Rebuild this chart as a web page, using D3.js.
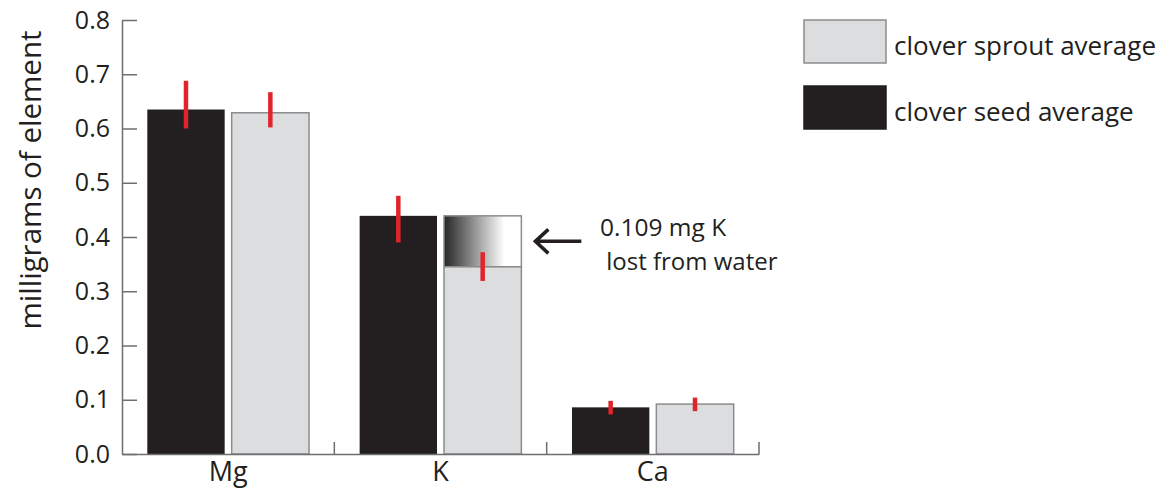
<!DOCTYPE html>
<html>
<head>
<meta charset="utf-8">
<script src="https://cdn.jsdelivr.net/npm/d3@7"></script>
<style>
  body { margin: 0; background: #fff; }
  svg { display: block; font-family: "Open Sans", sans-serif; }
  text { fill: #231f20; }
</style>
</head>
<body>
<svg></svg>
<script>
// data
var elements = ['Mg', 'K', 'Ca'];
var seedAvg = [0.635, 0.439, 0.086];
var seedErrLow = [0.600, 0.390, 0.073];
var seedErrHigh = [0.688, 0.476, 0.098];
var sproutAvg = [0.629, 0.345, 0.092];
var sproutErrLow = [0.602, 0.319, 0.079];
var sproutErrHigh = [0.667, 0.372, 0.104];
var sproutBeforeLoss = [null, 0.439, null];
var yTicks = [0, 0.1, 0.2, 0.3, 0.4, 0.5, 0.6, 0.7, 0.8];
var seriesNames = ['seed', 'sprout'];
var legendLabels = ['clover sprout average', 'clover seed average'];
var noteLines = ['0.109 mg K', ' lost from water'];

var width = 1168, height = 489;
var plotLeft = 122, plotRight = 759, plotTop = 20, plotBottom = 454;
var dark = '#231f20', light = '#dcdddf', edge = '#8c8c8c', red = '#e0242c', axisCol = '#6d6e71';

var svg = d3.select('svg').attr('width', width).attr('height', height);

var yScale = d3.scaleLinear().domain([0, 0.8]).range([plotBottom, plotTop]);
var xGroup = d3.scaleBand().domain(elements).range([plotLeft, plotRight]).padding(0);
var xSeries = d3.scaleBand().domain(seriesNames)
			.range([0, xGroup.bandwidth()])
			.paddingInner(0.083).paddingOuter(0.3);

var rows = elements.map(function(e, i){
	return {el: e,
		seed: {v: seedAvg[i], lo: seedErrLow[i], hi: seedErrHigh[i]},
		sprout: {v: sproutAvg[i], lo: sproutErrLow[i], hi: sproutErrHigh[i], before: sproutBeforeLoss[i]}};
});

// gradient for the lost-K box
var grad = svg.append('defs').append('linearGradient').attr('id', 'lostGrad')
	.attr('x1', '0%').attr('x2', '100%').attr('y1', '0%').attr('y2', '0%');
grad.append('stop').attr('offset', '0%').attr('stop-color', '#262626');
grad.append('stop').attr('offset', '78%').attr('stop-color', '#ffffff');
grad.append('stop').attr('offset', '100%').attr('stop-color', '#ffffff');

// y axis
var yAxis = d3.axisLeft(yScale)
			.tickValues(yTicks)
			.tickFormat(d3.format('.1f'))
			.tickSize(-15)
			.tickSizeOuter(0)
			.tickPadding(12);

var gy = svg.append('g').attr('transform', 'translate(' + plotLeft + ',0)').call(yAxis);
gy.selectAll('path,line').attr('stroke', axisCol).attr('stroke-width', 1.5);
gy.selectAll('text').attr('font-size', 25).style('font-family', '"Open Sans", sans-serif').attr('fill', dark);

// bars
var groups = svg.append('g').selectAll('g')
	.data(rows).enter().append('g')
	.attr('transform', function(d){ return 'translate(' + xGroup(d.el) + ',0)'; });

groups.filter(function(d){ return d.sprout.before != null; })
	.append('rect')
	.attr('x', xSeries('sprout'))
	.attr('y', function(d){ return yScale(d.sprout.before); })
	.attr('width', xSeries.bandwidth())
	.attr('height', function(d){ return yScale(d.sprout.v) - yScale(d.sprout.before); })
	.attr('fill', 'url(#lostGrad)')
	.attr('stroke', edge).attr('stroke-width', 1.5);

groups.append('rect')
	.attr('x', xSeries('seed'))
	.attr('y', function(d){ return yScale(d.seed.v); })
	.attr('width', xSeries.bandwidth())
	.attr('height', function(d){ return plotBottom - yScale(d.seed.v); })
	.attr('fill', dark);

groups.append('rect')
	.attr('x', xSeries('sprout'))
	.attr('y', function(d){ return yScale(d.sprout.v); })
	.attr('width', xSeries.bandwidth())
	.attr('height', function(d){ return plotBottom - yScale(d.sprout.v); })
	.attr('fill', light)
	.attr('stroke', edge).attr('stroke-width', 1.5);

// error bars
seriesNames.forEach(function(s){
	groups.append('line')
		.attr('x1', xSeries(s) + xSeries.bandwidth() / 2)
		.attr('x2', xSeries(s) + xSeries.bandwidth() / 2)
		.attr('y1', function(d){ return yScale(d[s].hi); })
		.attr('y2', function(d){ return yScale(d[s].lo); })
		.attr('stroke', red).attr('stroke-width', 4.5);
});

// x axis
var xAxis = d3.axisBottom(xGroup).tickSize(0).tickSizeOuter(0).tickPadding(8);
var gx = svg.append('g').attr('transform', 'translate(0,' + plotBottom + ')').call(xAxis);
gx.select('.domain').attr('stroke', axisCol).attr('stroke-width', 1.5);
gx.selectAll('text').attr('font-size', 27).style('font-family', '"Open Sans", sans-serif').attr('fill', dark);
gx.selectAll('.sep').data(elements).enter().append('line')
	.attr('class', 'sep')
	.attr('x1', function(d){ return xGroup(d) + xGroup.bandwidth(); })
	.attr('x2', function(d){ return xGroup(d) + xGroup.bandwidth(); })
	.attr('y1', 0).attr('y2', -12)
	.attr('stroke', axisCol).attr('stroke-width', 1.5);

// y title
svg.append('text')
	.attr('transform', 'rotate(-90)')
	.attr('x', -180)
	.attr('y', 41)
	.attr('text-anchor', 'middle')
	.attr('font-size', 29.5)
	.text('milligrams of element');

// annotation arrow and note
var kRight = xGroup('K') + xSeries('sprout') + xSeries.bandwidth();
var arrowY = yScale(0.392);
var ax = kRight + 13;
svg.append('path')
	.attr('d', 'M' + (ax + 47) + ',' + arrowY + 'H' + (ax + 2) +
		'M' + (ax + 14) + ',' + (arrowY - 12) + 'L' + (ax + 1) + ',' + arrowY + 'L' + (ax + 14) + ',' + (arrowY + 12))
	.attr('fill', 'none').attr('stroke', dark).attr('stroke-width', 3.5);

svg.append('text').attr('x', 600).attr('y', 236).attr('font-size', 24.5).text(noteLines[0]);
svg.append('text').attr('x', 600).attr('y', 270).attr('font-size', 24).attr('xml:space', 'preserve').text(noteLines[1]);

// legend
var legend = svg.append('g').attr('transform', 'translate(804,20)');
var legItems = legend.selectAll('g').data(legendLabels).enter().append('g')
	.attr('transform', function(d, i){ return 'translate(0,' + (i * 66) + ')'; });
legItems.append('rect')
	.attr('width', 82).attr('height', 43)
	.attr('fill', function(d, i){ return i === 0 ? light : dark; })
	.attr('stroke', function(d, i){ return i === 0 ? edge : dark; })
	.attr('stroke-width', 1.5);
legItems.append('text')
	.attr('x', 90).attr('y', 35)
	.attr('font-size', 26)
	.text(function(d){ return d; });
</script>
</body>
</html>
